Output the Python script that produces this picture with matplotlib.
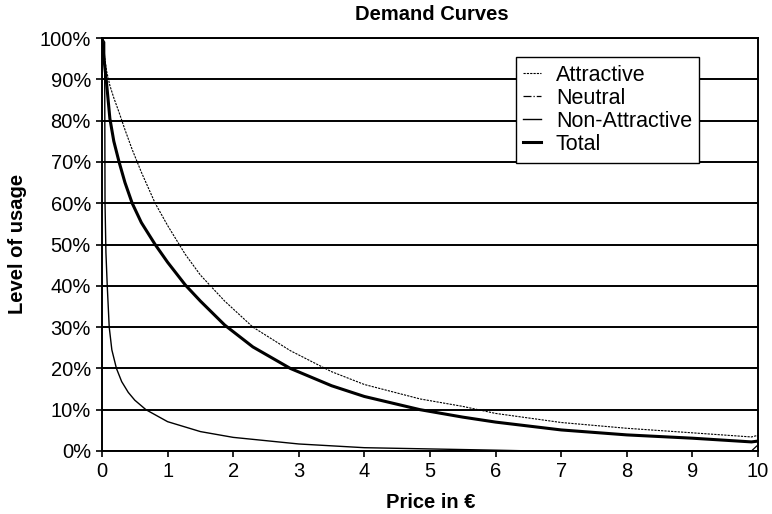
import numpy as np
import matplotlib.pyplot as plt
from matplotlib.ticker import PercentFormatter

plt.rcParams['font.family'] = ['Liberation Sans', 'DejaVu Sans']

# price grid shared by Attractive / Total
price = [0, 0.03, 0.07, 0.12, 0.18, 0.26, 0.35, 0.46, 0.6, 0.81, 1, 1.27,
         1.5, 1.87, 2.3, 2.87, 3.5, 4, 4.85, 5.5, 6, 7, 8, 9, 9.9, 10]
attractive = [100, 96.5, 92, 88.5, 85.5, 82, 77.8, 73, 67.5, 60, 54.6, 47.6,
              42.6, 36.3, 30, 24.3, 19.2, 16.1, 12.6, 10.8, 9.1, 6.9, 5.5,
              4.4, 3.4, 3.8]
total = [100, 95, 89, 80.5, 75, 70, 65, 60, 55.3, 50, 45.7, 40.2, 36.3, 30.5,
         25.2, 20, 15.8, 13.2, 10, 8.2, 7.0, 5.1, 3.9, 3.1, 2.2, 2.4]

# non-attractive drops almost immediately
price_non = [0, 0.04, 0.046, 0.06, 0.08, 0.11, 0.15, 0.22, 0.3, 0.4, 0.5,
             0.67, 1, 1.5, 2, 3, 4, 5, 6, 6.6]
non_attractive = [100, 99, 60, 48, 40, 30, 24.5, 20, 16.8, 14.2, 12.3, 10,
                  7.1, 4.7, 3.3, 1.7, 0.8, 0.5, 0.2, 0]

price_neutral = [0, 9.9, 10]
neutral = [0, 0, 1.5]

fig = plt.figure(figsize=(7.72, 5.14), dpi=100)
ax = fig.add_axes([102/772, 1 - 451/514, 656/772, 413/514])

ax.plot(price, attractive, color='black', lw=0.8, ls=(0, (2, 1)), label='Attractive')
ax.plot(price_neutral, neutral, color='black', lw=0.9, ls='-.', label='Neutral')
ax.plot(price_non, non_attractive, color='black', lw=1.0, label='Non-Attractive')
ax.plot(price, total, color='black', lw=2.2, label='Total')

ax.set_xlim(0, 10)
ax.set_ylim(0, 100)
ax.set_xticks(range(11))
ax.set_yticks(range(0, 101, 10))
ax.yaxis.set_major_formatter(PercentFormatter(decimals=0))
ax.grid(axis='y', color='black', lw=1.4)
ax.set_axisbelow(True)
for s in ['top', 'right', 'left', 'bottom']:
    ax.spines[s].set_linewidth(1.4)
ax.tick_params(direction='out', length=4, width=1.2, labelsize=14.5, pad=4)

fig.text(432/772, 1 - 14/514, 'Demand Curves', ha='center', va='center',
         fontsize=14.5, fontweight='bold')
fig.text(431/772, 1 - 503/514, 'Price in €', ha='center', va='center',
         fontsize=14.5, fontweight='bold')
fig.text(18/772, 1 - 244/514, 'Level of usage', ha='center', va='center',
         rotation=90, fontsize=14.5, fontweight='bold')

leg = ax.legend(loc='upper left', bbox_to_anchor=(0.631, 0.954), fontsize=15.5,
                frameon=True, fancybox=False, framealpha=1, edgecolor='black',
                handlelength=0.8, handletextpad=0.7, labelspacing=0.1,
                borderpad=0.35, borderaxespad=0)
leg.get_frame().set_linewidth(1.0)

fig.savefig('out.png', dpi=100)
